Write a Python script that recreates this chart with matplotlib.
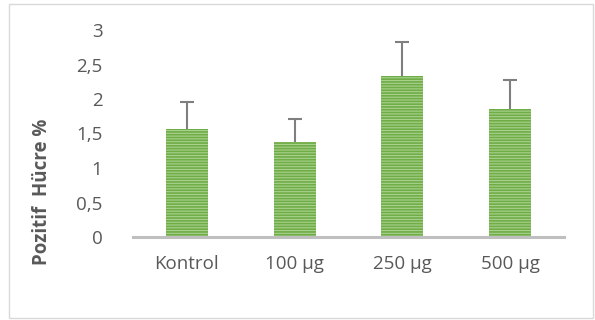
import matplotlib.pyplot as plt
from matplotlib.patches import Rectangle

# veriler
kategoriler = ["Kontrol", "100 µg", "250 µg", "500 µg"]
degerler = [1.57, 1.38, 2.34, 1.86]
hatalar = [0.39, 0.33, 0.49, 0.42]
y_ticks = [0, 0.5, 1, 1.5, 2, 2.5, 3]
y_labels = ["0", "0,5", "1", "1,5", "2", "2,5", "3"]

plt.rcParams['font.family'] = ['Open Sans', 'DejaVu Sans']
plt.rcParams['hatch.linewidth'] = 1.2

fig = plt.figure(figsize=(5.95, 3.2), dpi=100)
ax = fig.add_axes([133 / 595, 83 / 320, 431 / 595, 207 / 320])

x = range(len(kategoriler))
ax.bar(x, degerler, width=0.39, color='#a9d18e', edgecolor='#70ad47',
       hatch='------', linewidth=0, zorder=2)
_, caps, _ = ax.errorbar(x, degerler, yerr=[[0] * len(hatalar), hatalar], fmt='none',
                         ecolor='#7f7f7f', elinewidth=1.5, capsize=5, capthick=1.5, zorder=3)
caps[0].set_visible(False)  # sadece ust kapak

ax.set_xlim(-0.5, 3.5)
ax.set_ylim(0, 3)
ax.set_yticks(y_ticks)
ax.set_yticklabels(y_labels)
ax.set_xticks(list(x))
ax.set_xticklabels(kategoriler)
ax.tick_params(axis='both', length=0, labelsize=13.5, colors='#595959')
ax.tick_params(axis='y', pad=22)
ax.tick_params(axis='x', pad=13)
for s in ['left', 'right', 'top']:
    ax.spines[s].set_visible(False)
ax.spines['bottom'].set_color('#bfbfbf')
ax.spines['bottom'].set_linewidth(2.2)
ax.spines['bottom'].set_zorder(4)

fig.text(42 / 595, 1 - 192 / 320, "Pozitif  Hücre %", rotation=90,
         ha='center', va='center', fontsize=13.5, fontweight='bold', color='#595959')

fig.patches.append(Rectangle((9 / 595, 2 / 320), 584 / 595, 314 / 320,
                             transform=fig.transFigure, fill=False,
                             edgecolor='#d9d9d9', linewidth=1))

fig.savefig("out.png", dpi=100)
